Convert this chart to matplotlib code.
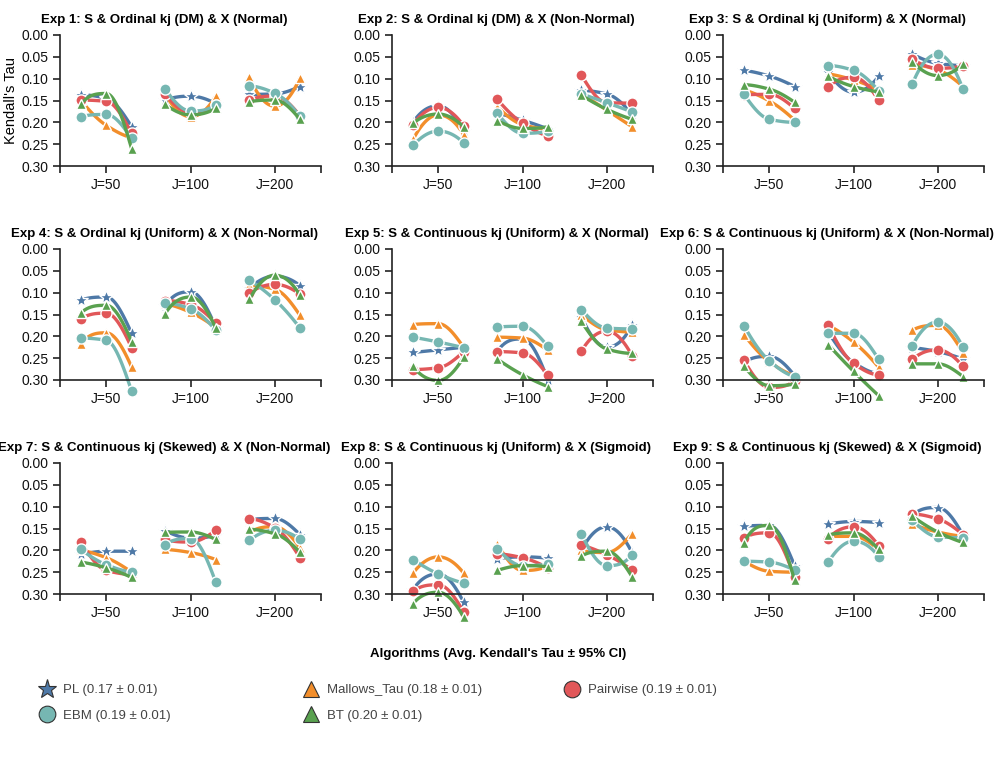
import numpy as np
import matplotlib
matplotlib.use('Agg')
import matplotlib.pyplot as plt
from matplotlib.lines import Line2D

plt.rcParams['font.family'] = ['Liberation Sans', 'DejaVu Sans']

# experiment titles
titles = [
    'Exp 1: S & Ordinal kj (DM) & X (Normal)',
    'Exp 2: S & Ordinal kj (DM) & X (Non-Normal)',
    'Exp 3: S & Ordinal kj (Uniform) & X (Normal)',
    'Exp 4: S & Ordinal kj (Uniform) & X (Non-Normal)',
    'Exp 5: S & Continuous kj (Uniform) & X (Normal)',
    'Exp 6: S & Continuous kj (Uniform) & X (Non-Normal)',
    'Exp 7: S & Continuous kj (Skewed) & X (Non-Normal)',
    'Exp 8: S & Continuous kj (Uniform) & X (Sigmoid)',
    'Exp 9: S & Continuous kj (Skewed) & X (Sigmoid)',
]
groups = ['J=50', 'J=100', 'J=200']

# Kendall's tau per experiment: 3 points per J group (J=50 x3, J=100 x3, J=200 x3)
pl = [
    [0.137, 0.145, 0.210, 0.149, 0.140, 0.157, 0.136, 0.135, 0.118],
    [0.200, 0.162, 0.220, 0.179, 0.195, 0.215, 0.127, 0.135, 0.180],
    [0.081, 0.094, 0.118, 0.085, 0.131, 0.094, 0.044, 0.065, 0.070],
    [0.117, 0.110, 0.193, 0.130, 0.098, 0.180, 0.090, 0.062, 0.084],
    [0.237, 0.231, 0.225, 0.235, 0.206, 0.300, 0.155, 0.225, 0.175],
    [0.260, 0.246, 0.290, 0.190, 0.260, 0.285, 0.226, 0.235, 0.252],
    [0.209, 0.202, 0.202, 0.155, 0.172, 0.165, 0.130, 0.127, 0.164],
    [0.290, 0.254, 0.319, 0.219, 0.215, 0.218, 0.200, 0.146, 0.205],
    [0.145, 0.143, 0.235, 0.140, 0.134, 0.137, 0.120, 0.102, 0.165],
]
mallows = [
    [0.150, 0.207, 0.235, 0.135, 0.187, 0.140, 0.097, 0.163, 0.098],
    [0.239, 0.183, 0.228, 0.164, 0.205, 0.215, 0.135, 0.172, 0.210],
    [0.126, 0.151, 0.195, 0.089, 0.103, 0.126, 0.068, 0.080, 0.118],
    [0.217, 0.192, 0.270, 0.125, 0.145, 0.180, 0.083, 0.092, 0.152],
    [0.173, 0.171, 0.225, 0.202, 0.204, 0.232, 0.150, 0.185, 0.190],
    [0.196, 0.258, 0.290, 0.175, 0.213, 0.271, 0.186, 0.175, 0.238],
    [0.200, 0.217, 0.250, 0.198, 0.205, 0.221, 0.160, 0.146, 0.194],
    [0.252, 0.215, 0.252, 0.185, 0.246, 0.235, 0.200, 0.205, 0.162],
    [0.225, 0.248, 0.250, 0.168, 0.168, 0.198, 0.140, 0.158, 0.168],
]
pairwise = [
    [0.149, 0.152, 0.225, 0.135, 0.178, 0.160, 0.150, 0.140, 0.185],
    [0.205, 0.166, 0.208, 0.147, 0.202, 0.231, 0.092, 0.155, 0.156],
    [0.137, 0.136, 0.168, 0.120, 0.097, 0.150, 0.056, 0.076, 0.070],
    [0.160, 0.147, 0.226, 0.118, 0.127, 0.170, 0.101, 0.081, 0.104],
    [0.276, 0.272, 0.235, 0.235, 0.238, 0.289, 0.234, 0.188, 0.244],
    [0.255, 0.317, 0.302, 0.175, 0.262, 0.288, 0.253, 0.231, 0.269],
    [0.182, 0.246, 0.255, 0.175, 0.181, 0.154, 0.128, 0.148, 0.217],
    [0.294, 0.279, 0.341, 0.208, 0.217, 0.240, 0.188, 0.210, 0.245],
    [0.172, 0.160, 0.262, 0.173, 0.146, 0.190, 0.117, 0.128, 0.164],
]
ebm = [
    [0.187, 0.182, 0.237, 0.124, 0.174, 0.160, 0.117, 0.133, 0.186],
    [0.253, 0.220, 0.247, 0.179, 0.225, 0.220, 0.135, 0.155, 0.176],
    [0.136, 0.193, 0.200, 0.070, 0.081, 0.128, 0.112, 0.044, 0.124],
    [0.204, 0.209, 0.325, 0.124, 0.137, 0.186, 0.072, 0.116, 0.181],
    [0.202, 0.213, 0.226, 0.179, 0.177, 0.223, 0.139, 0.181, 0.183],
    [0.176, 0.256, 0.292, 0.193, 0.193, 0.253, 0.221, 0.167, 0.225],
    [0.198, 0.233, 0.250, 0.187, 0.173, 0.273, 0.177, 0.154, 0.175],
    [0.221, 0.254, 0.275, 0.196, 0.235, 0.231, 0.162, 0.235, 0.210],
    [0.225, 0.227, 0.245, 0.227, 0.179, 0.215, 0.131, 0.169, 0.171],
]
bt = [
    [0.158, 0.134, 0.260, 0.159, 0.183, 0.168, 0.153, 0.149, 0.193],
    [0.202, 0.181, 0.210, 0.196, 0.214, 0.210, 0.138, 0.170, 0.193],
    [0.114, 0.124, 0.154, 0.095, 0.118, 0.130, 0.061, 0.093, 0.067],
    [0.146, 0.129, 0.212, 0.148, 0.110, 0.181, 0.115, 0.060, 0.106],
    [0.269, 0.301, 0.248, 0.252, 0.288, 0.315, 0.166, 0.229, 0.239],
    [0.269, 0.313, 0.309, 0.219, 0.280, 0.336, 0.263, 0.263, 0.292],
    [0.227, 0.240, 0.262, 0.159, 0.158, 0.175, 0.152, 0.162, 0.204],
    [0.322, 0.296, 0.352, 0.246, 0.235, 0.238, 0.213, 0.202, 0.260],
    [0.183, 0.143, 0.269, 0.165, 0.160, 0.198, 0.122, 0.158, 0.182],
]

algo_labels = ['PL (0.17 ± 0.01)', 'Mallows_Tau (0.18 ± 0.01)', 'Pairwise (0.19 ± 0.01)',
               'EBM (0.19 ± 0.01)', 'BT (0.20 ± 0.01)']
algo_data = [pl, mallows, pairwise, ebm, bt]
colors = ['#4E79A7', '#F28E2B', '#E15759', '#76B7B2', '#59A14F']
markers = ['*', '^', 'o', 'o', '^']
msizes = [10, 7.5, 8, 8, 7.5]

offsets = np.array([-0.3, 0.0, 0.3])


def pchip_curve(x, y, n=30):
    # monotone cubic (Fritsch-Carlson) through the points
    h = np.diff(x)
    d = np.diff(y) / h
    m = np.zeros(len(x))
    for k in range(1, len(x) - 1):
        if d[k - 1] * d[k] > 0:
            w1 = 2 * h[k] + h[k - 1]
            w2 = h[k] + 2 * h[k - 1]
            m[k] = (w1 + w2) / (w1 / d[k - 1] + w2 / d[k])

    def end_slope(h0, h1, d0, d1):
        s = ((2 * h0 + h1) * d0 - h0 * d1) / (h0 + h1)
        if np.sign(s) != np.sign(d0):
            s = 0.0
        elif np.sign(d0) != np.sign(d1) and abs(s) > abs(3 * d0):
            s = 3 * d0
        return s

    m[0] = end_slope(h[0], h[1], d[0], d[1])
    m[-1] = end_slope(h[-1], h[-2], d[-1], d[-2])
    xx, yy = [], []
    for k in range(len(x) - 1):
        t = np.linspace(0, 1, n)
        h00 = 2 * t**3 - 3 * t**2 + 1
        h10 = t**3 - 2 * t**2 + t
        h01 = -2 * t**3 + 3 * t**2
        h11 = t**3 - t**2
        xx.append(x[k] + t * h[k])
        yy.append(h00 * y[k] + h10 * h[k] * m[k] + h01 * y[k + 1] + h11 * h[k] * m[k + 1])
    return np.concatenate(xx), np.concatenate(yy)


fig = plt.figure(figsize=(9.96, 7.83), dpi=100)

W, H = 996, 783
col_left = [60, 392, 723]
ax_w = 261
row_top = [35, 249, 463]
ax_h = 131

axes = []
for i in range(9):
    r, c = divmod(i, 3)
    ax = fig.add_axes([col_left[c] / W, 1 - (row_top[r] + ax_h) / H, ax_w / W, ax_h / H])
    axes.append(ax)

    for a in range(5):
        vals = np.array(algo_data[a][i])
        for g in range(3):
            xs = g + offsets
            ys = vals[g * 3:g * 3 + 3]
            cx, cy = pchip_curve(xs, ys)
            ax.plot(cx, cy, color=colors[a], lw=2.4, solid_capstyle='round',
                    clip_on=False, zorder=2 + a * 0.1)
            ax.plot(xs, ys, linestyle='none', marker=markers[a], ms=msizes[a],
                    color=colors[a], mec='white', mew=1.0, clip_on=False,
                    zorder=2.05 + a * 0.1)

    ax.set_xlim(-0.55, 2.55)
    ax.set_ylim(0.30, 0.00)
    ax.set_yticks(np.arange(0, 0.301, 0.05))
    ax.set_yticklabels([f'{v:.2f}' for v in np.arange(0, 0.301, 0.05)])
    ax.set_xticks(range(3))
    ax.set_xticklabels(groups)
    ax.set_xticks([-0.55, 2.55], minor=True)
    ax.tick_params(axis='both', which='both', length=5, width=1.2, color='#222222',
                   labelsize=10, labelcolor='#111111')
    for s in ['top', 'right']:
        ax.spines[s].set_visible(False)
    for s in ['left', 'bottom']:
        ax.spines[s].set_linewidth(1.2)
        ax.spines[s].set_color('#222222')
    ax.set_title(titles[i], fontsize=9.5, fontweight='bold', x=0.4, pad=9)

axes[0].set_ylabel("Kendall's Tau", fontsize=10.5)
axes[0].yaxis.set_label_coords(-0.16, 0.5)

# legend
fig.text(0.5, 1 - 654 / H, "Algorithms (Avg. Kendall's Tau ± 95% CI)",
         ha='center', va='center', fontsize=9.5, fontweight='bold')

handles = [Line2D([], [], linestyle='none', marker=markers[a], color=colors[a],
                  mec='#333333', mew=0.8, ms=msizes[a] + 4) for a in range(5)]
columns = [[0, 3], [1, 4], [2]]
col_x = [47, 311, 572]
for k, idx in enumerate(columns):
    fig.legend([handles[a] for a in idx], [algo_labels[a] for a in idx],
               loc='upper left', bbox_to_anchor=((col_x[k] - 8) / W, 1 - 684 / H),
               frameon=False, fontsize=9.5, borderpad=0, borderaxespad=0,
               handlelength=1.2, handletextpad=0.6, labelspacing=1.0,
               labelcolor='#444444')

fig.savefig('out.png', dpi=100)
